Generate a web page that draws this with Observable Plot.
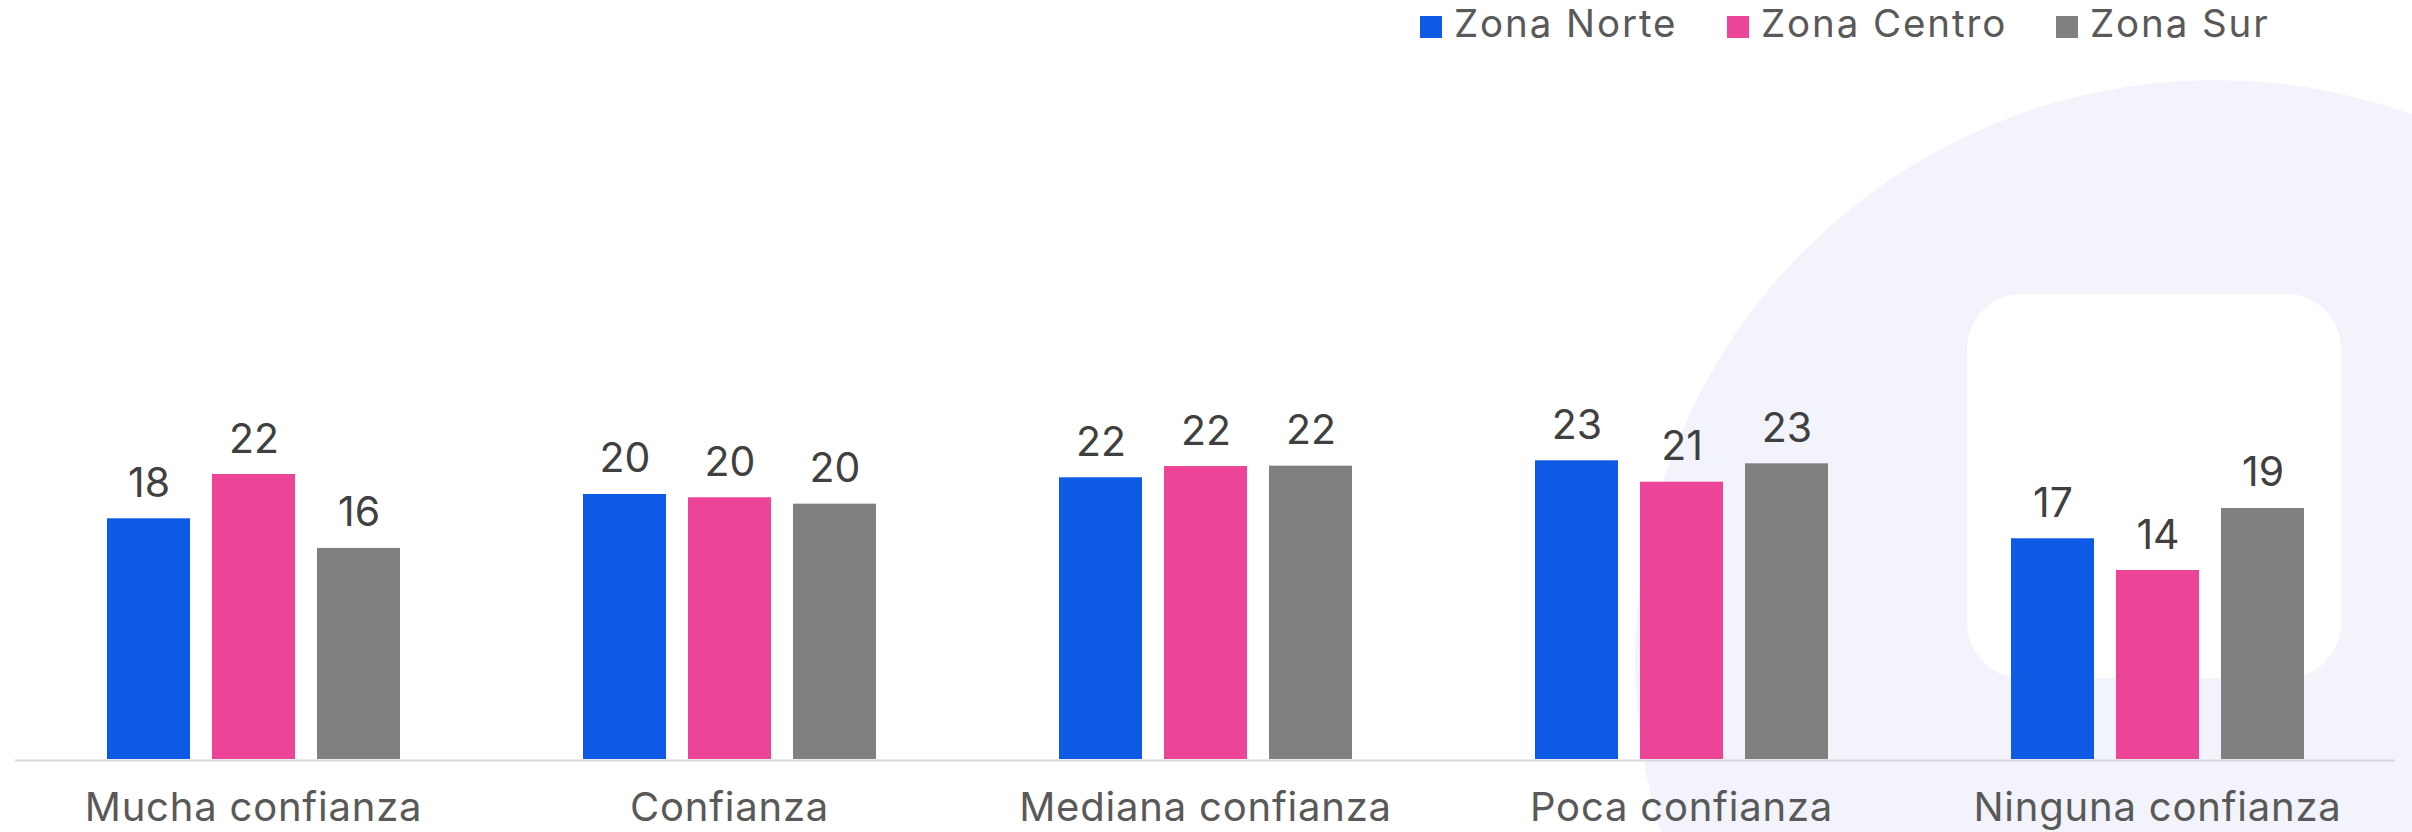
<!DOCTYPE html>
<html><head><meta charset="utf-8">
<script src="https://cdn.jsdelivr.net/npm/d3@7"></script>
<script src="https://cdn.jsdelivr.net/npm/@observablehq/plot@0.6"></script>
<style>
html,body{margin:0;padding:0;background:#fff;}
#page{position:relative;width:2412px;height:832px;overflow:hidden;font-family:Inter,sans-serif;}
#bg{position:absolute;left:0;top:0;z-index:0}
#legend{position:relative;height:52px;z-index:1}
.item{position:absolute;top:0;height:52px;}
.sw{position:absolute;left:0;top:16px;width:22px;height:22px;}
.lb{position:absolute;left:34px;top:4px;font-size:38.5px;line-height:1;color:#595959;white-space:nowrap;letter-spacing:1.9px}
#chart{position:relative;z-index:1}
#chart svg g[aria-label="fx-axis tick label"] text{letter-spacing:0.8px}
</style></head><body>
<div id="page"><svg id="bg" width="2412" height="832"></svg><div id="legend"></div><div id="chart"></div></div>
<script>
// ---- data ----
const categories = ["Mucha confianza", "Confianza", "Mediana confianza", "Poca confianza", "Ninguna confianza"];
const zones = ["Zona Norte", "Zona Centro", "Zona Sur"];
const norte  = [18.43, 20.29, 21.57, 22.87, 16.90];
const centro = [21.82, 20.04, 22.43, 21.23, 14.47];
const sur    = [16.16, 19.55, 22.46, 22.64, 19.22];
const colors = ["#0f5ae5", "#ec4497", "#808080"];

const series = [norte, centro, sur];
const data = categories.flatMap((c, i) => zones.map((z, j) => ({cat: c, zone: z, v: series[j][i]})));

// ---- background watermark (decoration) ----
const bg = d3.select("#bg");
bg.append("circle").attr("cx", 2215).attr("cy", 660).attr("r", 580).attr("fill", "#f2f3fb");
bg.append("rect").attr("x", 1967).attr("y", 294).attr("width", 374).attr("height", 384).attr("rx", 55).attr("fill", "#ffffff");

// ---- legend ----
const legendX = [1420, 1727, 2056];
const legend = d3.select("#legend");
zones.forEach((z, i) => {
  const it = legend.append("div").attr("class", "item").style("left", legendX[i] + "px");
  it.append("div").attr("class", "sw").style("background", colors[i]);
  it.append("div").attr("class", "lb").text(z);
});

// ---- chart ----
const chart = Plot.plot({
  width: 2412, height: 780,
  marginLeft: 13, marginRight: 15, marginTop: 20, marginBottom: 73,
  style: {fontFamily: "Inter, sans-serif", background: "transparent"},
  fx: {domain: categories, padding: 0, label: null},
  x: {domain: zones, paddingInner: 0.213, paddingOuter: 0.866, axis: null},
  y: {domain: [0, 52.6], axis: null},
  color: {domain: zones, range: colors},
  marks: [
    Plot.ruleY([0], {stroke: "#d9d9d9", strokeWidth: 2, dy: 1}),
    Plot.barY(data, {fx: "cat", x: "zone", y: "v", fill: "zone"}),
    Plot.text(data, {fx: "cat", x: "zone", y: "v", text: d => String(Math.round(d.v)), dy: -22, lineAnchor: "bottom", fontSize: 41, fill: "#404040"}),
    Plot.axisFx({anchor: "bottom", tickSize: 0, tickPadding: 33, fontSize: 40, fill: "#595959", label: null})
  ]
});
document.getElementById("chart").appendChild(chart);
</script>
</body></html>
